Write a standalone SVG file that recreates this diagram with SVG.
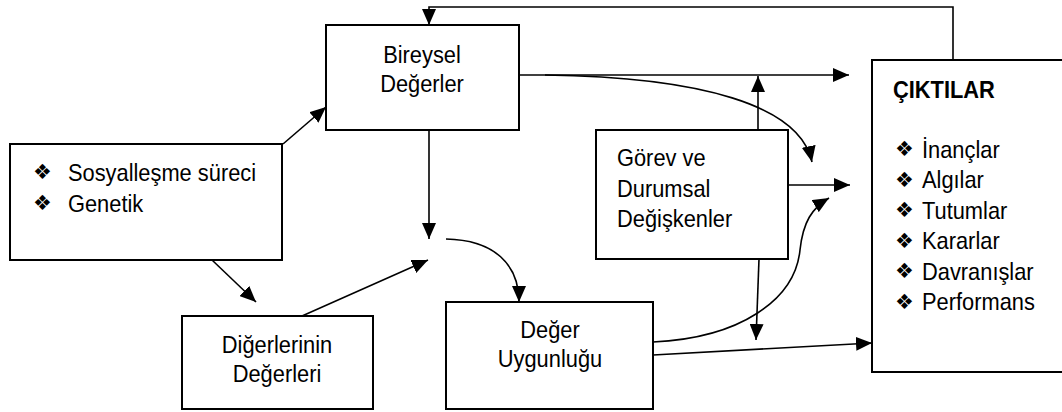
<svg xmlns="http://www.w3.org/2000/svg" width="1062" height="412" viewBox="0 0 1062 412">
<style>
.box{fill:#fff;stroke:#000;stroke-width:2}
.t{font-family:"Liberation Sans",Arial,sans-serif;font-size:24px;fill:#000;transform-box:fill-box;transform-origin:left center;transform:scaleX(0.91)}
.c{text-anchor:middle;transform-origin:center}
.h{font-weight:bold;font-size:24px}
.b{font-family:"DejaVu Sans",sans-serif;font-size:21px;fill:#000}
.ln{fill:none;stroke:#000;stroke-width:1.6;marker-end:url(#ah)}
</style>
<defs>
<marker id="ah" viewBox="0 0 16 14" refX="16" refY="7" markerWidth="16" markerHeight="14" markerUnits="userSpaceOnUse" orient="auto">
<path d="M0,0 L16,7 L0,14 z" fill="#000"/>
</marker>
</defs>
<rect width="1062" height="412" fill="#fff"/>
<g id="connectors">
<path class="ln" d="M953,60 V7 H429 V25"/>
<path class="ln" d="M283,144 L326,107"/>
<path class="ln" d="M519,75 H849"/>
<path class="ln" d="M545,75 C700,77 800,105 812,162"/>
<path class="ln" d="M758,130 V76"/>
<path class="ln" d="M788,185 H850"/>
<path class="ln" d="M759,259 L756,340"/>
<path class="ln" d="M653,342 C740,338 795,300 800,250 C803,222 812,208 829,198"/>
<path class="ln" d="M653,355 L872,343"/>
<path class="ln" d="M429,130 V239"/>
<path class="ln" d="M302,316 L428,260"/>
<path class="ln" d="M212,260 L256,302"/>
<path class="ln" d="M446,239 C495,240 519,265 519,302"/>
</g>
<g id="bireysel">
<rect class="box" x="326" y="25" width="193" height="105"/>
<text class="t c" x="422" y="63">Bireysel</text>
<text class="t c" x="422" y="92">Değerler</text>
</g>
<g id="sosyallesme">
<rect class="box" x="10" y="144" width="272" height="116"/>
<text class="b" x="33" y="179">❖</text>
<text class="t" x="68" y="181">Sosyalleşme süreci</text>
<text class="b" x="33" y="210">❖</text>
<text class="t" x="68" y="212">Genetik</text>
</g>
<g id="digerlerinin">
<rect class="box" x="182" y="316" width="191" height="93"/>
<text class="t c" x="277" y="353">Diğerlerinin</text>
<text class="t c" x="277" y="382">Değerleri</text>
</g>
<g id="deger">
<rect class="box" x="446" y="302" width="207" height="107"/>
<text class="t c" x="550" y="338">Değer</text>
<text class="t c" x="550" y="367">Uygunluğu</text>
</g>
<g id="gorev">
<rect class="box" x="596" y="130" width="192" height="129"/>
<text class="t" x="617" y="166">Görev ve</text>
<text class="t" x="617" y="197">Durumsal</text>
<text class="t" x="617" y="227">Değişkenler</text>
</g>
<g id="ciktilar">
<rect class="box" x="872" y="60" width="200" height="312"/>
<text class="t h" x="893" y="98">ÇIKTILAR</text>
<text class="b" x="895" y="156">❖</text>
<text class="t" x="922" y="158">İnançlar</text>
<text class="b" x="895" y="186.5">❖</text>
<text class="t" x="922" y="188.5">Algılar</text>
<text class="b" x="895" y="217">❖</text>
<text class="t" x="922" y="219">Tutumlar</text>
<text class="b" x="895" y="247.5">❖</text>
<text class="t" x="922" y="249.5">Kararlar</text>
<text class="b" x="895" y="278">❖</text>
<text class="t" x="922" y="280">Davranışlar</text>
<text class="b" x="895" y="308.5">❖</text>
<text class="t" x="922" y="310.5">Performans</text>
</g>
</svg>
